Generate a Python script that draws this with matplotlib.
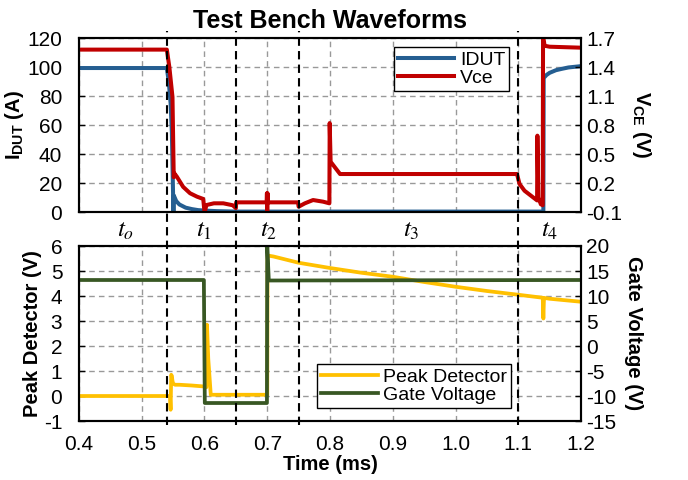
import matplotlib
matplotlib.use('Agg')
import matplotlib.pyplot as plt
from matplotlib.lines import Line2D
from matplotlib import transforms

plt.rcParams['font.family'] = ['Liberation Sans', 'DejaVu Sans']
plt.rcParams['mathtext.fontset'] = 'custom'
plt.rcParams['mathtext.rm'] = 'Liberation Sans'
plt.rcParams['mathtext.bf'] = 'Liberation Sans:bold'
plt.rcParams['mathtext.it'] = 'Liberation Sans:italic'
plt.rcParams['axes.unicode_minus'] = False

# ---- data ----
# Top panel: device current (A, left axis)
idut_t = [0.4, 0.54, 0.543, 0.546, 0.548, 0.5505, 0.551, 0.555, 0.56, 0.57,
          0.58, 0.59, 0.6, 0.62, 0.65, 1.14, 1.1405, 1.145, 1.15, 1.16, 1.17, 1.18, 1.2]
idut_v = [99.3, 99.3, 90, 75, 55, 0, 11.5, 7.5, 5.2, 3.0,
          2.0, 1.3, 1.0, 0.6, 0.3, 0.3, 92.4, 94.5, 96, 97.8, 98.8, 99.7, 100.6]

# Top panel: collector-emitter voltage (V, right axis)
vce_t = [0.4, 0.54, 0.544, 0.549, 0.551, 0.552, 0.556, 0.566, 0.577, 0.588,
         0.598, 0.6, 0.6005, 0.603, 0.615, 0.63, 0.645, 0.65, 0.6505, 0.699,
         0.6995, 0.7, 0.7005, 0.701, 0.749, 0.75, 0.76, 0.773, 0.789, 0.799,
         0.7995, 0.801, 0.816, 1.098, 1.102, 1.11, 1.12, 1.13, 1.1305, 1.132,
         1.136, 1.139, 1.1395, 1.142, 1.15, 1.2]
vce_v = [1.58, 1.58, 1.40, 1.09, 0.26, 0.30, 0.265, 0.16, 0.094, 0.059,
         0.035, -0.1, -0.1, -0.028, -0.01, -0.01, -0.03, -0.06, 0.0, 0.0,
         0.094, -0.1, 0.094, 0.0, 0.0, -0.045, -0.01, 0.024, 0.007, -0.01,
         0.82, 0.42, 0.293, 0.293, 0.19, 0.12, 0.07, 0.02, 0.69, 0.05,
         -0.02, -0.03, 1.72, 1.62, 1.61, 1.60]

# Bottom panel: peak detector output (V, left axis)
pk_t = [0.4, 0.545, 0.546, 0.547, 0.548, 0.549, 0.55, 0.553, 0.56, 0.58,
        0.6, 0.603, 0.604, 0.606, 0.61, 0.65, 0.699, 0.7, 0.7005, 0.71,
        0.75, 0.8, 0.85, 0.9, 0.95, 1.0, 1.05, 1.1, 1.139, 1.14,
        1.141, 1.145, 1.15, 1.2]
pk_v = [0.0, 0.0, -0.55, 0.85, 0.8, 0.6, 0.5, 0.45, 0.45, 0.42,
        0.38, 0.35, 2.85, 1.5, 0.05, 0.05, 0.05, 0.05, 5.62, 5.58,
        5.33, 5.12, 4.93, 4.77, 4.56, 4.37, 4.2, 4.05, 3.93, 3.1,
        3.92, 3.91, 3.89, 3.77]

# Bottom panel: gate voltage (V, right axis)
gate_t = [0.4, 0.599, 0.6005, 0.6995, 0.7, 0.7025, 1.2]
gate_v = [13.2, 13.2, -11.4, -11.4, 20.0, 13.1, 13.2]

phase_x = [0.54, 0.65, 0.75, 1.1]
phase_labels = [r'$t_o$', r'$t_1$', r'$t_2$', r'$t_3$', r'$t_4$']
phase_label_x = [0.474, 0.599, 0.703, 0.93, 1.15]

c_idut = '#255E91'
c_vce = '#C00000'
c_pk = '#FFC000'
c_gate = '#385723'
grid_kw = dict(color='#999999', linestyle=(0, (4, 3)), linewidth=1.0)

fig = plt.figure(figsize=(6.88, 4.8), dpi=100)
ax1 = fig.add_axes([0.1148, 0.5583, 0.7297, 0.3625])
ax3 = fig.add_axes([0.1148, 0.1229, 0.7297, 0.3646])

# --- top panel ---
ax1.plot(idut_t, idut_v, color=c_idut, lw=2.9, label='IDUT')
ax1.set_ylim(0, 120)
ax1.set_yticks(range(0, 121, 20))
ax1.set_xlim(0.4, 1.2)
ax1.set_xticks([0.4 + 0.1 * i for i in range(9)])
ax1.tick_params(labelbottom=False)
ax1.grid(True, **grid_kw)
ax1.set_ylabel(r'$\mathbf{I_{DUT}}$ (A)', fontsize=14.5, fontweight='bold', labelpad=1)

ax2 = ax1.twinx()
ax2.plot(vce_t, vce_v, color=c_vce, lw=2.9, label='Vce')
ax2.set_ylim(-0.1, 1.7)
ax2.set_yticks([-0.1, 0.2, 0.5, 0.8, 1.1, 1.4, 1.7])
ax2.set_yticklabels(['-0.1', '0.2', '0.5', '0.8', '1.1', '1.4', '1.7'])
ax2.set_ylabel(r'$\mathbf{V_{CE}}$ (V)', fontsize=14.5, fontweight='bold',
               rotation=-90, va='bottom', labelpad=6)
h1, l1 = ax1.get_legend_handles_labels()
h2, l2 = ax2.get_legend_handles_labels()
leg = ax2.legend(h1 + h2, l1 + l2, loc='upper right', bbox_to_anchor=(0.857, 0.948),
                 borderaxespad=0, fontsize=14, fancybox=False, framealpha=1,
                 edgecolor='black', handlelength=2.9, borderpad=0.2,
                 labelspacing=0.05, handletextpad=0.3)
leg.get_frame().set_linewidth(1.0)
ax1.set_title('Test Bench Waveforms', fontsize=18, fontweight='bold', pad=7)

# --- bottom panel ---
ax3.plot(pk_t, pk_v, color=c_pk, lw=2.7, label='Peak Detector')
ax3.set_ylim(-1, 6)
ax3.set_yticks(range(-1, 7))
ax3.set_xlim(0.4, 1.2)
ax3.set_xticks([0.4 + 0.1 * i for i in range(9)])
ax3.set_xticklabels(['0.4', '0.5', '0.6', '0.7', '0.8', '0.9', '1.0', '1.1', '1.2'])
ax3.grid(True, **grid_kw)
ax3.set_ylabel('Peak Detector (V)', fontsize=14.5, fontweight='bold', labelpad=1)
ax3.set_xlabel('Time (ms)', fontsize=14.5, fontweight='bold', labelpad=1)

ax4 = ax3.twinx()
ax4.plot(gate_t, gate_v, color=c_gate, lw=2.7, label='Gate Voltage')
ax4.set_ylim(-15, 20)
ax4.set_yticks(range(-15, 21, 5))
ax4.set_ylabel('Gate Voltage (V)', fontsize=14.5, fontweight='bold',
               rotation=-90, va='bottom', labelpad=6)
h3, l3 = ax3.get_legend_handles_labels()
h4, l4 = ax4.get_legend_handles_labels()
leg2 = ax4.legend(h3 + h4, l3 + l4, loc='lower right', bbox_to_anchor=(0.861, 0.074),
                  borderaxespad=0, fontsize=14, fancybox=False, framealpha=1,
                  edgecolor='black', handlelength=2.9, borderpad=0.2,
                  labelspacing=0.05, handletextpad=0.3)
leg2.get_frame().set_linewidth(1.0)

for ax in (ax1, ax2, ax3, ax4):
    ax.tick_params(direction='in', length=4, labelsize=15, width=1.0)
    for s in ax.spines.values():
        s.set_linewidth(1.5)
ax1.tick_params(axis='x', length=0)
ax3.tick_params(axis='x', length=0, pad=10)
ax1.tick_params(axis='y', pad=12)
ax3.tick_params(axis='y', pad=12)

# phase boundaries spanning both panels
trans = transforms.blended_transform_factory(ax1.transData, fig.transFigure)
for x in phase_x:
    fig.add_artist(Line2D([x, x], [0.115, 0.935], transform=trans, color='black',
                          linestyle=(0, (4, 2.5)), linewidth=1.5, zorder=5))
for x, lab in zip(phase_label_x, phase_labels):
    fig.text(x, 0.52, lab, transform=trans, fontsize=18, ha='center', va='center',
             math_fontfamily='stix')

fig.savefig('out.png', dpi=100)
